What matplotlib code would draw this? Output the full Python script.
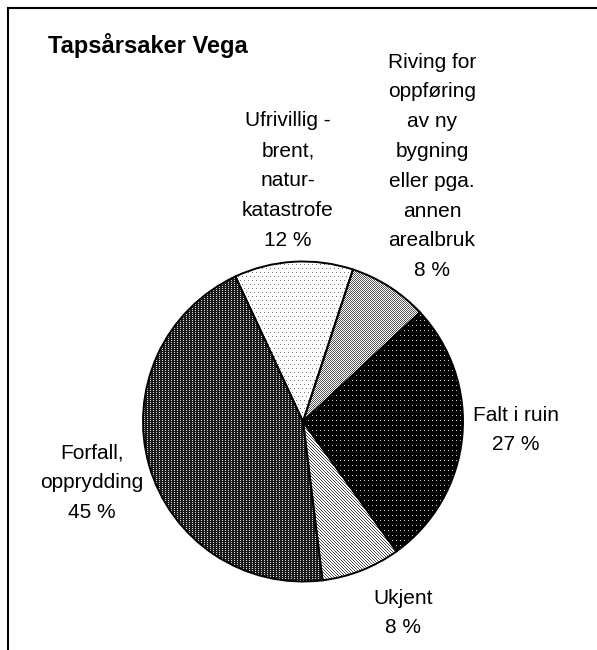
import numpy as np
import matplotlib
matplotlib.use("Agg")
import matplotlib.pyplot as plt
from matplotlib.lines import Line2D

plt.rcParams['font.family'] = ['Liberation Sans', 'DejaVu Sans']

# data
categories = ["Ufrivillig -\nbrent,\nnatur-\nkatastrofe",
              "Riving for\noppføring\nav ny\nbygning\neller pga.\nannen\narealbruk",
              "Falt i ruin",
              "Ukjent",
              "Forfall,\nopprydding"]
shares = [12, 8, 27, 8, 45]
title = "Tapsårsaker Vega"

W, H = 597, 650
cx, cy, R = 303, 421.5, 160   # pie centre / radius in pixels, from top-left

fig = plt.figure(figsize=(W / 100, H / 100), dpi=100)
ax = fig.add_axes([0, 0, 1, 1])

wedges, _ = ax.pie(shares, startangle=115, counterclock=False, radius=1,
                   wedgeprops=dict(facecolor='none', edgecolor='black', linewidth=1.4))

xlim = (-cx / R, (W - cx) / R)
ylim = (-(H - cy) / R, cy / R)

# excel-like fill patterns, one pixel per cell
i, j = np.indices((H, W))


def tex(bg, fg, mask):
    a = np.full((H, W), bg, float)
    a[mask] = fg
    return a


textures = [
    tex(1.0, 0.45, (i % 4 == 0) & ((j + 2 * ((i // 4) % 2)) % 4 == 0)),
    tex(1.0, 0.35, (i + j) % 2 == 0),
    tex(0.0, 0.8, (i % 5 == 0) & (j % 4 == 0)),
    tex(1.0, 0.3, (i - j) % 3 == 0),
    tex(0.1, 0.85, (i % 2 == 0) & (j % 3 == 0)),
]
for w, t in zip(wedges, textures):
    im = ax.imshow(t, cmap='gray', vmin=0, vmax=1, extent=(*xlim, *ylim),
                   interpolation='nearest', aspect='auto', zorder=0.5)
    im.set_clip_path(w)

ax.set_xlim(*xlim)
ax.set_ylim(*ylim)
ax.set_aspect('auto')
ax.axis('off')

# label anchors (pie units)
label_xy = [(-0.094, 1.506), (0.806, 1.594), (1.331, -0.053),
            (0.625, -1.197), (-1.319, -0.384)]
for name, v, (x, y) in zip(categories, shares, label_xy):
    ax.text(x, y, f"{name}\n{v} %", ha='center', va='center', fontsize=15,
            linespacing=1.72, multialignment='center')

fig.text(48 / W, 1 - 53 / H, title, fontsize=17, fontweight='bold', va='baseline')

# frame (only top and left visible in the crop)
fig.add_artist(Line2D([8 / W, 1], [1 - 8 / H, 1 - 8 / H], color='black', lw=1.5,
                      transform=fig.transFigure))
fig.add_artist(Line2D([8 / W, 8 / W], [1 - 8 / H, 0], color='black', lw=1.5,
                      transform=fig.transFigure))

fig.savefig('out.png', dpi=100)
